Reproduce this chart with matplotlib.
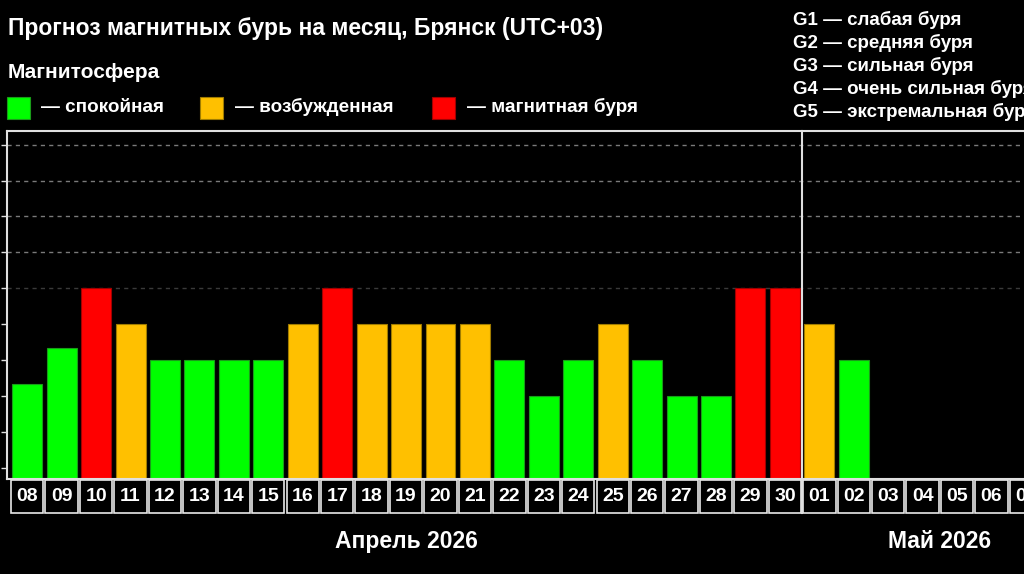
import matplotlib
matplotlib.use("Agg")
import matplotlib.pyplot as plt
import matplotlib.transforms as mtransforms
from matplotlib.patches import Rectangle

plt.rcParams['font.family'] = ['Liberation Sans', 'DejaVu Sans']
plt.rcParams['font.weight'] = 'bold'

# data
days = ['08', '09', '10', '11', '12', '13', '14', '15', '16', '17', '18', '19',
        '20', '21', '22', '23', '24', '25', '26', '27', '28', '29', '30',
        '01', '02', '03', '04', '05', '06', '07']
kp = [2.33, 3.33, 5, 4, 3, 3, 3, 3, 4, 5, 4, 4, 4, 4, 3, 2, 3, 4, 3, 2, 2, 5, 5,
      4, 3]
months = ['Апрель 2026', 'Май 2026']
month_pos = [11, 26.5]
month_split = 22.5

title = 'Прогноз магнитных бурь на месяц, Брянск (UTC+03)'
legend_labels = ['— спокойная', '— возбужденная', '— магнитная буря']
g_labels = ['G1 — слабая буря', 'G2 — средняя буря', 'G3 — сильная буря',
            'G4 — очень сильная буря', 'G5 — экстремальная буря']

GREEN, ORANGE, RED = '#00ff00', '#ffc000', '#ff0000'
EDGES = {GREEN: '#1a9c1a', ORANGE: '#a07c00', RED: '#a00000'}


def level_color(v):
    if v >= 5:
        return RED
    if v >= 4:
        return ORANGE
    return GREEN


W, H = 1024, 574
fig = plt.figure(figsize=(W / 100, H / 100), dpi=100, facecolor='black')


def fx(px):
    return px / W


def fy(py):
    return 1 - py / H


# axes: left 7px, top 131px, bottom 479px, runs past the right edge
ymin, ymax = -0.31, 9.38
xmin, xmax = -0.587, 29.587
ax = fig.add_axes([fx(7), fy(479), 1039.2 / W, (479 - 131) / H])
ax.set_facecolor('black')
ax.set_xlim(xmin, xmax)
ax.set_ylim(ymin, ymax)

# grid lines above the storm level
for lvl, col in zip([5, 6, 7, 8, 9], ['#3a3a3a', '#7a7a7a', '#7a7a7a', '#7a7a7a', '#7a7a7a']):
    ax.axhline(lvl, color=col, lw=1, ls=(0, (3, 3)), zorder=1)

x = list(range(len(kp)))
colors = [level_color(v) for v in kp]
ax.bar(x, [v - ymin for v in kp], bottom=ymin, width=0.87, color=colors,
       edgecolor=[EDGES[c] for c in colors], linewidth=0.8, zorder=2)

for s in ['left', 'top', 'bottom']:
    ax.spines[s].set_color('#e0e0e0')
    ax.spines[s].set_linewidth(1.5)
ax.spines['right'].set_visible(False)
ax.set_yticks(range(10))
ax.set_yticklabels([])
ax.tick_params(axis='y', colors='#e0e0e0', length=4.5, width=1)
ax.set_xticks([])

# day cells below the axis
trans = mtransforms.blended_transform_factory(ax.transData, ax.transAxes)
for i, d in enumerate(days):
    ax.add_patch(Rectangle((i - 0.5 + 0.03, -0.0977), 0.94, 0.0935,
                           transform=trans, facecolor='black',
                           edgecolor='#e8e8e8', lw=1.2, clip_on=False))
    ax.text(i, -0.051, d, transform=trans, color='white', fontsize=14,
            ha='center', va='center', clip_on=False)

ax.plot([month_split, month_split], [1, -0.0977], transform=trans,
        color='#e0e0e0', lw=1.5, clip_on=False, zorder=5)

mtrans = mtransforms.blended_transform_factory(ax.transData, fig.transFigure)
for m, pos in zip(months, month_pos):
    ax.text(pos, fy(541.5), m, transform=mtrans, color='white', fontsize=16.5,
            ha='center', va='center')

# header
fig.text(fx(8), fy(28), title, color='white', fontsize=16.5, ha='left', va='center')
fig.text(fx(8), fy(73), 'Магнитосфера', color='white', fontsize=15,
         ha='left', va='center')

sq_x = [7, 200, 432]
txt_x = [41, 235, 467]
for sx, tx, c, lab in zip(sq_x, txt_x, [GREEN, ORANGE, RED], legend_labels):
    fig.patches.append(Rectangle((fx(sx), fy(119)), 23 / W, 22 / H,
                                 transform=fig.transFigure, facecolor=c,
                                 edgecolor=EDGES[c], lw=0.8))
    fig.text(fx(tx), fy(107), lab, color='white', fontsize=13.6,
             ha='left', va='center')

for k, lab in enumerate(g_labels):
    fig.text(fx(793), fy(20 + k * 23), lab, color='white', fontsize=13.5,
             ha='left', va='center')

fig.savefig('out.png', dpi=100, facecolor='black')
